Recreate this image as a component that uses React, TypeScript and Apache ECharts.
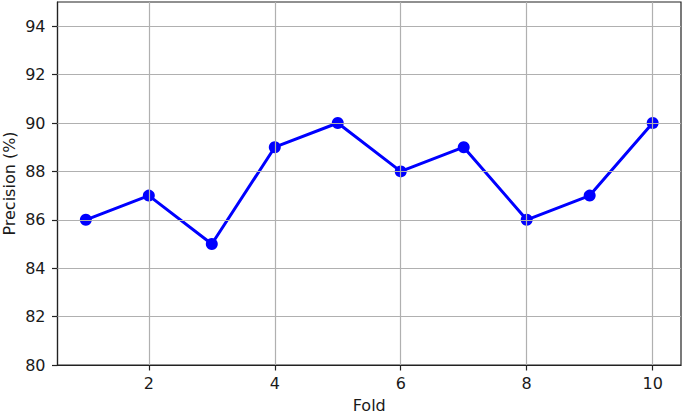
import React, { useEffect, useRef } from "react";
import * as echarts from "echarts";

const folds = [1, 2, 3, 4, 5, 6, 7, 8, 9, 10];
const precision = [86, 87, 85, 89, 90, 88, 89, 86, 87, 90];
const xTicks = [2, 4, 6, 8, 10];
const yTicks = [80, 82, 84, 86, 88, 90, 92, 94];

const FONT = "DejaVu Sans";
const TEXT = "#1a1a1a";

export default function App() {
  const ref = useRef<HTMLDivElement>(null);
  useEffect(() => {
    document.body.style.margin = "0";
    const chart = echarts.init(ref.current!, null, { renderer: "svg" });
    chart.setOption({
      animation: false,
      backgroundColor: "#ffffff",
      grid: {
        left: 57.5,
        top: 2,
        right: 4,
        bottom: 51,
        containLabel: false,
        outerBoundsMode: "none",
        show: true,
        borderColor: "#222222",
        borderWidth: 1.2,
        backgroundColor: "transparent",
      },
      xAxis: {
        type: "value",
        min: 0.55,
        max: 10.45,
        name: "Fold",
        nameLocation: "middle",
        nameGap: 32,
        nameMoveOverlap: false,
        nameTextStyle: { fontFamily: FONT, fontSize: 16, color: TEXT },
        axisLine: { show: true, onZero: false, lineStyle: { color: "#222", width: 1.2 } },
        axisTick: {
          show: true,
          length: 5.5,
          lineStyle: { color: "#222", width: 1.2 },
          customValues: xTicks,
        },
        axisLabel: {
          fontFamily: FONT,
          fontSize: 16,
          color: TEXT,
          margin: 10,
          customValues: xTicks,
        },
        splitLine: { show: false },
      },
      yAxis: {
        type: "value",
        min: 80,
        max: 95,
        name: "Precision (%)",
        nameLocation: "middle",
        nameGap: 40,
        nameMoveOverlap: false,
        nameTextStyle: { fontFamily: FONT, fontSize: 16, color: TEXT },
        axisLine: { show: true, lineStyle: { color: "#222", width: 1.2 } },
        axisTick: {
          show: true,
          length: 5.5,
          lineStyle: { color: "#222", width: 1.2 },
          customValues: yTicks,
        },
        axisLabel: {
          fontFamily: FONT,
          fontSize: 16,
          color: TEXT,
          margin: 12,
          customValues: yTicks,
        },
        splitLine: { show: false },
      },
      series: [
        {
          type: "line",
          data: folds.map((f, i) => [f, precision[i]]),
          z: 3,
          lineStyle: { color: "#0000ff", width: 3 },
          itemStyle: { color: "#0000ff" },
          symbol: "circle",
          symbolSize: 12,
          showSymbol: true,
        },
        {
          type: "line",
          data: [],
          z: 1,
          silent: true,
          markLine: {
            silent: true,
            symbol: ["none", "none"],
            label: { show: false },
            lineStyle: { color: "#b0b0b0", width: 1.2, type: "solid" },
            data: [
              ...xTicks.map((x) => ({ xAxis: x })),
              ...yTicks.filter((y) => y !== 80).map((y) => ({ yAxis: y })),
            ],
          },
        },
      ],
    });
    return () => chart.dispose();
  }, []);
  return (
    <div
      ref={ref}
      style={{ position: "fixed", left: 0, top: 0, width: 685, height: 416 }}
    />
  );
}
